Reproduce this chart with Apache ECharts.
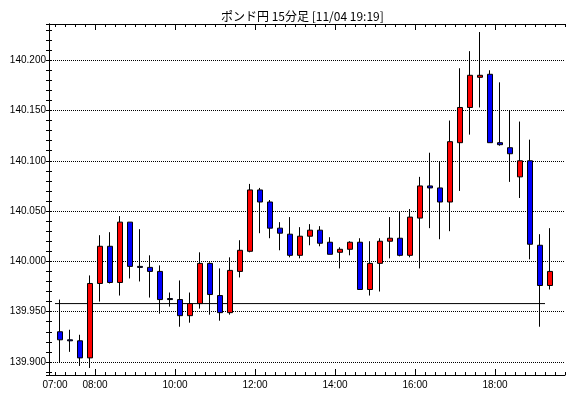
<!DOCTYPE html>
<html>
<head>
<meta charset="utf-8">
<script src="https://cdn.jsdelivr.net/npm/echarts@6/dist/echarts.min.js"></script>
<style>
  html, body { margin: 0; padding: 0; background: #fff; }
  #chart { width: 570px; height: 398px; }
</style>
</head>
<body>
<div id="chart"></div>
<script>
// 15-minute slots; candles sit in the first 51, the axis ticks use all 52 boundaries
const TICKS = [
  '07:00','07:15','07:30','07:45','08:00','08:15','08:30','08:45',
  '09:00','09:15','09:30','09:45','10:00','10:15','10:30','10:45',
  '11:00','11:15','11:30','11:45','12:00','12:15','12:30','12:45',
  '13:00','13:15','13:30','13:45','14:00','14:15','14:30','14:45',
  '15:00','15:15','15:30','15:45','16:00','16:15','16:30','16:45',
  '17:00','17:15','17:30','17:45','18:00','18:15','18:30','18:45',
  '19:00','19:15','19:30','19:45'
]
const SLOTS = TICKS.slice(0, 51)
const LABELS = ['07:00', '08:00', '10:00', '12:00', '14:00', '16:00', '18:00']
const MAJOR = ['08:00', '10:00', '12:00', '14:00', '16:00', '18:00']

const opens = [
  139.930, 139.922, 139.921, 139.904, 139.978, 140.015, 139.979, 140.039, 139.995, 139.994,
  139.990, 139.963, 139.962, 139.946, 139.958, 139.998, 139.966, 139.949, 139.990, 140.010,
  140.071, 140.059, 140.033, 140.027, 140.006, 140.025, 140.031, 140.019, 140.009, 140.012,
  140.019, 139.972, 139.998, 140.020, 140.023, 140.006, 140.043, 140.075, 140.073, 140.059,
  140.118, 140.153, 140.183, 140.186, 140.118, 140.113, 140.084, 140.100, 140.016, 139.976
]
const closes = [
  139.922, 139.921, 139.904, 139.978, 140.015, 139.979, 140.039, 139.995, 139.994, 139.990,
  139.962, 139.962, 139.946, 139.958, 139.998, 139.967, 139.949, 139.991, 140.011, 140.071,
  140.059, 140.033, 140.028, 140.006, 140.025, 140.031, 140.018, 140.007, 140.012, 140.019,
  139.972, 139.998, 140.020, 140.023, 140.006, 140.044, 140.075, 140.073, 140.059, 140.119,
  140.153, 140.185, 140.185, 140.118, 140.116, 140.107, 140.100, 140.017, 139.976, 139.990
]
const lows = [
  139.899, 139.910, 139.896, 139.894, 139.960, 139.978, 139.966, 139.983, 139.980, 139.964,
  139.948, 139.955, 139.935, 139.939, 139.953, 139.947, 139.941, 139.947, 139.984, 140.009,
  140.028, 140.023, 140.011, 140.004, 140.003, 140.016, 140.015, 140.007, 139.993, 140.006,
  139.972, 139.966, 139.970, 140.003, 140.005, 140.004, 139.993, 140.033, 140.022, 140.030,
  140.070, 140.126, 140.153, 140.118, 140.115, 140.079, 140.063, 140.002, 139.935, 139.972
]
const highs = [
  139.962, 139.932, 139.927, 139.986, 140.026, 140.029, 140.045, 140.039, 140.032, 140.006,
  139.996, 139.969, 139.981, 139.969, 140.009, 139.999, 139.993, 140.004, 140.021, 140.077,
  140.073, 140.061, 140.039, 140.044, 140.034, 140.037, 140.035, 140.024, 140.014, 140.020,
  140.023, 140.020, 140.023, 140.044, 140.050, 140.052, 140.084, 140.108, 140.099, 140.140,
  140.192, 140.209, 140.228, 140.190, 140.178, 140.150, 140.139, 140.121, 140.027, 140.033
]
const REF_LEVEL = 139.958
const REF_FROM = '07:00'
const REF_TO = '19:15'

const Y_MIN = 139.887
const Y_MAX = 140.236

const chart = echarts.init(document.getElementById('chart'))
const FONT = 'Liberation Sans'
const black = '#000'

const candles = opens.map((o, i) => [o, closes[i], lows[i], highs[i]])

const tickAxis = (position, length, filter) => ({
  type: 'category',
  gridIndex: 0,
  data: TICKS,
  boundaryGap: false,
  position: position,
  axisLine: { show: false, onZero: false },
  axisTick: {
    show: true,
    inside: true,
    length: length,
    interval: filter,
    lineStyle: { color: black, width: 1 },
  },
  axisLabel: { show: false },
  splitLine: { show: false },
})

const bottomLabels = tickAxis('bottom', 3, 0)
bottomLabels.axisLabel = {
  show: true,
  interval: (i, v) => LABELS.includes(v),
  margin: 5,
  color: black,
  fontFamily: FONT,
  fontSize: 10,
}

const yFrame = (position, labels, split) => ({
  type: 'value',
  gridIndex: 1,
  position: position,
  min: Y_MIN,
  max: Y_MAX,
  splitNumber: 5,
  axisLine: { show: true, lineStyle: { color: black, width: 1 } },
  axisTick: { show: true, inside: true, length: 3, lineStyle: { color: black } },
  minorTick: { show: true, splitNumber: 5, length: 3, lineStyle: { color: black } },
  axisLabel: {
    show: labels,
    showMinLabel: false,
    showMaxLabel: false,
    margin: 3,
    color: black,
    fontFamily: FONT,
    fontSize: 10,
    formatter: (v) => v.toFixed(3),
  },
  splitLine: {
    show: split,
    showMinLine: false,
    showMaxLine: false,
    lineStyle: { color: black, width: 1, type: [1, 1] },
  },
})

const xFrame = (position) => ({
  type: 'value',
  gridIndex: 1,
  position: position,
  min: 0,
  max: 1,
  axisLine: { show: true, onZero: false, lineStyle: { color: black, width: 1 } },
  axisTick: { show: false },
  axisLabel: { show: false },
  splitLine: { show: false },
})

const option = {
  backgroundColor: '#fff',
  animation: false,
  title: {
    text: 'ポンド円 15分足 [11/04 19:19]',
    left: 216,
    top: 5,
    textStyle: {
      fontFamily: 'Noto Sans CJK JP',
      fontSize: 12,
      fontWeight: 'normal',
      color: black,
    },
  },
  grid: [
    { left: 55, right: 5, top: 24, bottom: 23 },
    { left: 49, right: 5, top: 24, bottom: 23 },
  ],
  xAxis: [
    { type: 'category', gridIndex: 0, data: SLOTS, boundaryGap: true, show: false },
    bottomLabels,
    tickAxis('bottom', 6, (i, v) => MAJOR.includes(v)),
    tickAxis('top', 3, 0),
    tickAxis('top', 6, (i, v) => MAJOR.includes(v)),
    xFrame('bottom'),
    xFrame('top'),
  ],
  yAxis: [
    { type: 'value', gridIndex: 0, min: Y_MIN, max: Y_MAX, show: false },
    yFrame('left', true, true),
    yFrame('right', false, false),
  ],
  series: [
    {
      type: 'candlestick',
      xAxisIndex: 0,
      yAxisIndex: 0,
      data: candles,
      barWidth: 6,
      itemStyle: {
        color: '#ff0000',
        color0: '#0000ff',
        borderColor: black,
        borderColor0: black,
        borderColorDoji: black,
        borderWidth: 1,
      },
    },
    {
      type: 'line',
      xAxisIndex: 1,
      yAxisIndex: 0,
      data: [[REF_FROM, REF_LEVEL], [REF_TO, REF_LEVEL]],
      symbol: 'none',
      lineStyle: { color: black, width: 1 },
      z: 1,
    },
  ],
}

chart.setOption(option)
</script>
</body>
</html>
